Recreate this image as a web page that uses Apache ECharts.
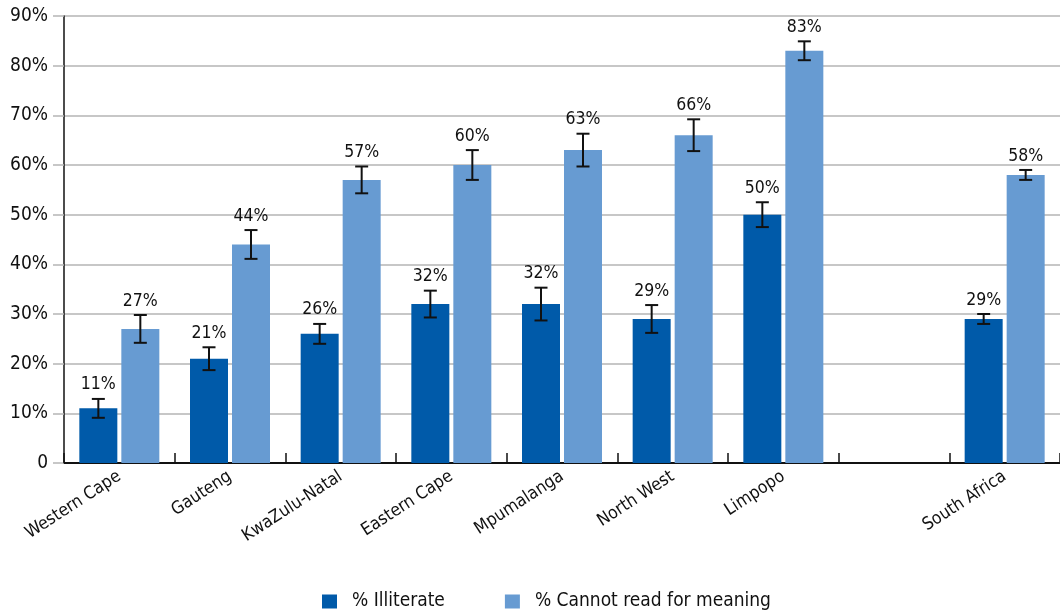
<!DOCTYPE html>
<html>
<head>
<meta charset="utf-8">
<script src="https://cdn.jsdelivr.net/npm/echarts@6/dist/echarts.min.js"></script>
<style>
html,body{margin:0;padding:0;background:#fff;}
#chart{width:1060px;height:615px;}
</style>
</head>
<body>
<div id="chart"></div>
<script>
// ---- data ----
const categories = ['Western Cape','Gauteng','KwaZulu-Natal','Eastern Cape','Mpumalanga','North West','Limpopo','','South Africa'];
const illiterate = [11, 21, 26, 32, 32, 29, 50, null, 29];
const illiterateErr = [1.9, 2.3, 2.0, 2.7, 3.3, 2.8, 2.5, null, 1.0];
const cannotRead = [27, 44, 57, 60, 63, 66, 83, null, 58];
const cannotReadErr = [2.8, 2.9, 2.7, 3.0, 3.3, 3.2, 1.9, null, 1.0];
const yTicks = [0, 10, 20, 30, 40, 50, 60, 70, 80, 90];
const seriesNames = ['% Illiterate', '% Cannot read for meaning'];

// ---- styles ----
const FONT = '"DejaVu Sans Condensed", "Liberation Sans Narrow", "Noto Sans", sans-serif';
const DARK = '#005AA9';
const LIGHT = '#679BD2';
const BAR_W = 38;
const BAR_GAP = 4;
const OFFSET = (BAR_W + BAR_GAP) / 2;

function errData(vals, errs) {
  const out = [];
  vals.forEach((v, i) => { if (v != null) out.push([i, v, errs[i]]); });
  return out;
}

function makeRender(side) {
  return function (params, api) {
    const c = api.value(0), v = api.value(1), e = api.value(2);
    const x = api.coord([c, v])[0] + side * OFFSET;
    const yt = api.coord([c, v + e])[1];
    const yb = api.coord([c, v - e])[1];
    const cap = 6.5;
    const ls = { stroke: '#111', lineWidth: 2 };
    return {
      type: 'group',
      children: [
        { type: 'line', shape: { x1: x, y1: yt, x2: x, y2: yb }, style: ls },
        { type: 'line', shape: { x1: x - cap, y1: yt, x2: x + cap, y2: yt }, style: ls },
        { type: 'line', shape: { x1: x - cap, y1: yb, x2: x + cap, y2: yb }, style: ls },
        { type: 'text', style: { text: v + '%', x: x, y: yt - 5, align: 'center', verticalAlign: 'bottom',
            fontSize: 17.5, fontFamily: FONT, fill: '#111' } }
      ]
    };
  };
}

const chart = echarts.init(document.getElementById('chart'));
chart.setOption({
  animation: false,
  backgroundColor: '#fff',
  grid: { left: 64, top: 16, width: 1006, height: 447 },
  legend: {
    data: seriesNames,
    left: 317, top: 587,
    itemWidth: 15, itemHeight: 14, itemGap: 60,
    icon: 'rect',
    textStyle: { fontSize: 19, fontFamily: FONT, color: '#111', padding: [0, 0, 0, 10] }
  },
  xAxis: {
    type: 'category',
    data: categories,
    axisLine: { lineStyle: { color: '#111', width: 2 } },
    axisTick: { show: true, inside: true, length: 10, lineStyle: { color: '#111', width: 1.5 } },
    axisLabel: { rotate: 33, fontSize: 17.5, fontFamily: FONT, color: '#111', margin: 12, interval: 0 }
  },
  yAxis: {
    type: 'value',
    min: yTicks[0], max: yTicks[yTicks.length - 1], interval: 10,
    axisLine: { show: true, lineStyle: { color: '#111', width: 1.5 } },
    axisTick: { show: true, length: 11, lineStyle: { color: '#b5b5b5', width: 1.5 } },
    splitLine: { lineStyle: { color: '#b5b5b5', width: 1.5 } },
    axisLabel: { fontSize: 19, fontFamily: FONT, color: '#111', margin: 16,
      formatter: v => v === 0 ? '0' : v + '%' }
  },
  series: [
    { name: seriesNames[0], type: 'bar', data: illiterate, barWidth: BAR_W, barGap: (BAR_GAP / BAR_W * 100) + '%',
      itemStyle: { color: DARK } },
    { name: seriesNames[1], type: 'bar', data: cannotRead, barWidth: BAR_W,
      itemStyle: { color: LIGHT } },
    { type: 'custom', data: errData(illiterate, illiterateErr), renderItem: makeRender(-1),
      encode: { x: 0, y: 1 }, z: 5, silent: true },
    { type: 'custom', data: errData(cannotRead, cannotReadErr), renderItem: makeRender(1),
      encode: { x: 0, y: 1 }, z: 5, silent: true }
  ]
});
</script>
</body>
</html>
